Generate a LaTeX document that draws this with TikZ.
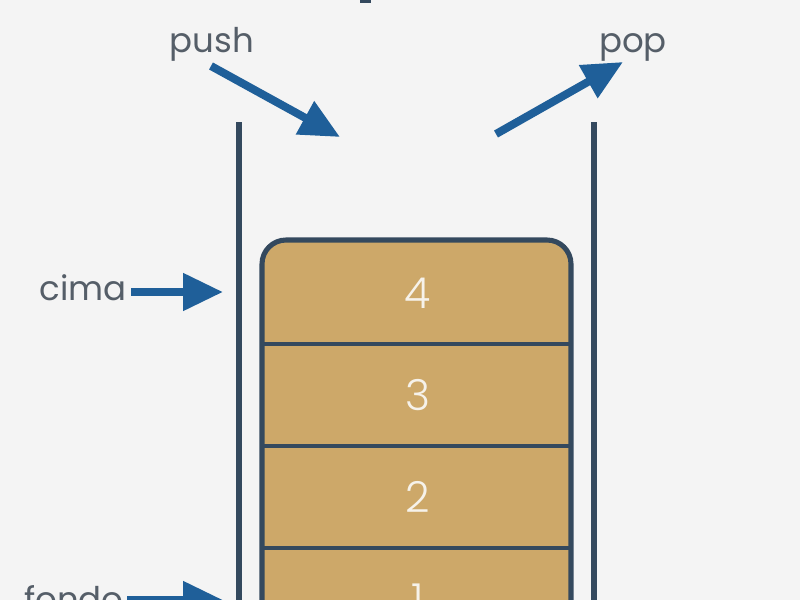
\documentclass[tikz,border=0pt]{standalone}
\usepackage{fontspec}
\setmainfont{Poppins}
\IfFontExistsTF{Poppins Light}{\newfontfamily\digitfont{Poppins Light}}{\newfontfamily\digitfont{Poppins}}
\usetikzlibrary{arrows.meta}
\definecolor{bg}{HTML}{F4F4F4}
\definecolor{wall}{HTML}{34495E}
\definecolor{tanfill}{HTML}{CDA869}
\definecolor{arrowblue}{HTML}{1F5F99}
\definecolor{labelgray}{HTML}{555E68}
\definecolor{digitcol}{HTML}{F6F2EA}
\begin{document}
\begin{tikzpicture}[x=0.75pt,y=-0.75pt,
  wallline/.style={draw=wall,line width=3.8pt},
  divline/.style={draw=wall,line width=2.6pt},
  arr/.style={draw=arrowblue,line width=6pt,-{Triangle[length=30pt,width=27pt]}},
  lbl/.style={text=labelgray,font=\fontsize{25.5pt}{30pt}\selectfont,inner sep=0pt,anchor=base},
  digitlbl/.style={text=digitcol,font=\digitfont\fontsize{32pt}{36pt}\selectfont,inner sep=0pt,anchor=base}]
\useasboundingbox (0,0) rectangle (800,600);
\fill[bg] (0,0) rectangle (800,600);
\clip (0,0) rectangle (800,600);
% title fragment
\fill[wall] (360,0) rectangle (371,3);
% walls
\coordinate (lwtop) at (239,122);
\coordinate (lwbot) at (239,640);
\coordinate (rwtop) at (594,122);
\coordinate (rwbot) at (594,640);
\draw[wallline] (lwtop) -- (lwbot);
\draw[wallline] (rwtop) -- (rwbot);
% stack box
\filldraw[fill=tanfill,draw=wall,line width=3.8pt,rounded corners=18] (262,240) rectangle (571,700);
\coordinate (d1l) at (262,344); \coordinate (d1r) at (571,344);
\coordinate (d2l) at (262,446); \coordinate (d2r) at (571,446);
\coordinate (d3l) at (262,548); \coordinate (d3r) at (571,548);
\draw[divline] (d1l) -- (d1r);
\draw[divline] (d2l) -- (d2r);
\draw[divline] (d3l) -- (d3r);
% digits
\node[digitlbl] (n4) at (418,308) {4};
\node[digitlbl] (n3) at (418,410) {3};
\node[digitlbl] (n2) at (418,512) {2};
\node[digitlbl] (n1) at (418,614) {1};
% labels
\node[lbl] (push) at (212,52) {push};
\node[lbl] (pop) at (633,52) {pop};
\node[lbl] (cima) at (83,300) {cima};
\node[lbl] (fondo) at (74,611) {fondo};
% arrows
\coordinate (pushs) at (211,66);
\coordinate (pushe) at (340,137);
\coordinate (pops) at (496,134);
\coordinate (pope) at (623,62);
\coordinate (cimas) at (131,292);
\coordinate (cimae) at (223,292);
\coordinate (fondos) at (127,600);
\coordinate (fondoe) at (223,600);
\draw[arr] (pushs) -- (pushe);
\draw[arr] (pops) -- (pope);
\draw[arr] (cimas) -- (cimae);
\draw[arr] (fondos) -- (fondoe);
\end{tikzpicture}
\end{document}
